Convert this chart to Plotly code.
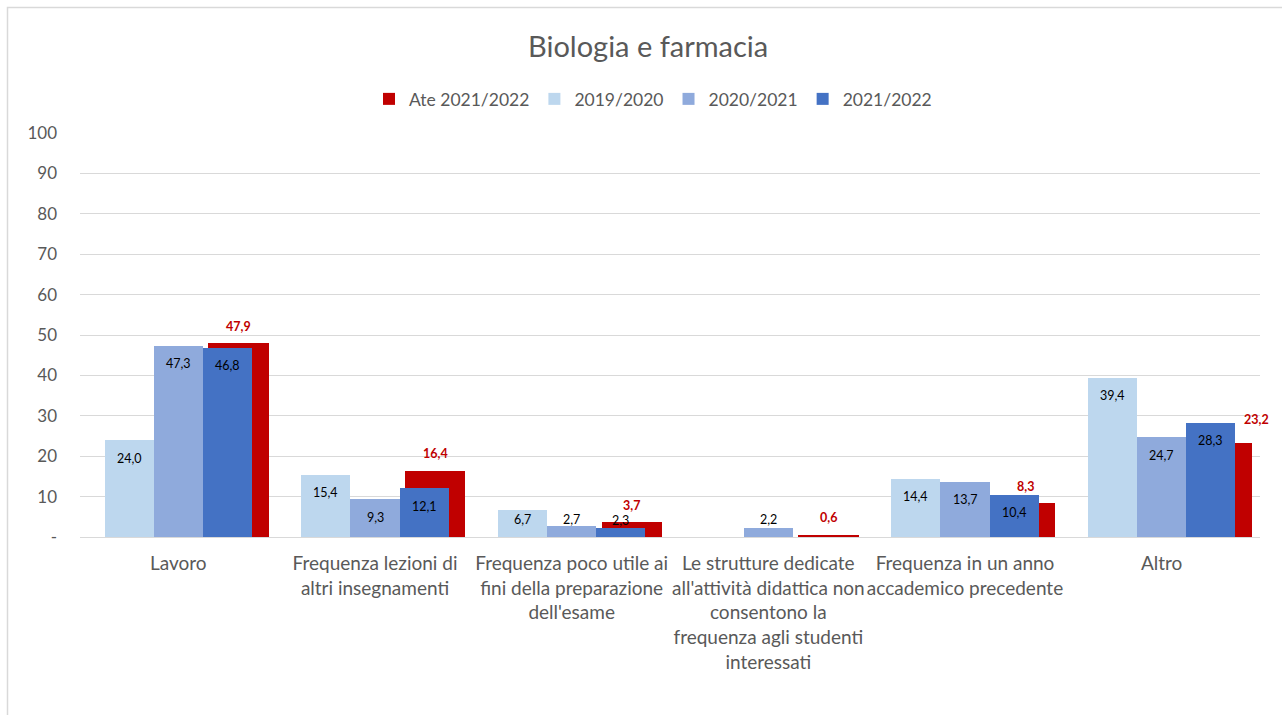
import plotly.graph_objects as go

# Categories (motivi della non frequenza)
categories = [
    "Lavoro",
    "Frequenza lezioni di<br>altri insegnamenti",
    "Frequenza poco utile ai<br>fini della preparazione<br>dell'esame",
    "Le strutture dedicate<br>all'attività didattica non<br>consentono la<br>frequenza agli studenti<br>interessati",
    "Frequenza in un anno<br>accademico precedente",
    "Altro",
]

# Series values (%)
ate_2021_2022 = [47.9, 16.4, 3.7, 0.6, 8.3, 23.2]
v_2019_2020 = [24.0, 15.4, 6.7, None, 14.4, 39.4]
v_2020_2021 = [47.3, 9.3, 2.7, 2.2, 13.7, 24.7]
v_2021_2022 = [46.8, 12.1, 2.3, None, 10.4, 28.3]

y_ticks = [0, 10, 20, 30, 40, 50, 60, 70, 80, 90, 100]
y_tick_labels = ["-", "10", "20", "30", "40", "50", "60", "70", "80", "90", "100"]

FONT = "Lato"
GREY = "#595959"
RED = "#C00000"

# plot area geometry (pixels)
W, H = 1282, 715
ML, MR, MT, MB = 80, 22, 133, 178
PLOT_W = W - ML - MR
PLOT_H = H - MT - MB
PX_PER_UNIT = PLOT_H / 100.0

x_idx = list(range(len(categories)))

blue_series = [
    ("2019/2020", v_2019_2020, "#BDD7EE", -0.375),
    ("2020/2021", v_2020_2021, "#8FAADC", -0.125),
    ("2021/2022", v_2021_2022, "#4472C4", 0.125),
]
BLUE_W = 0.25
RED_OFF, RED_W = 0.153, 0.307

fig = go.Figure()

# Ateneo series sits behind the department bars
fig.add_trace(go.Bar(
    name="Ate 2021/2022", x=x_idx, y=ate_2021_2022,
    offset=RED_OFF, width=RED_W,
    marker=dict(color=RED, line=dict(width=0)),
    hoverinfo="y",
))
for name, vals, color, off in blue_series:
    fig.add_trace(go.Bar(
        name=name, x=x_idx, y=vals,
        offset=off, width=BLUE_W,
        marker=dict(color=color, line=dict(width=0)),
        hoverinfo="y",
    ))

annotations = []

# inside-end labels for the department bars, kept clear of the baseline
for name, vals, color, off in blue_series:
    for i, v in enumerate(vals):
        if v is None:
            continue
        bar_px = v * PX_PER_UNIT
        shift = -min(18.0, bar_px - 17.0)
        annotations.append(dict(
            x=i + off + BLUE_W / 2, y=v, xref="x", yref="y",
            text=f"{v:.1f}".replace(".", ","), showarrow=False,
            yanchor="middle", xanchor="center", yshift=shift,
            font=dict(family=FONT, size=12.5, color="#000000"),
        ))

# bold red labels above the Ateneo bars
for i, v in enumerate(ate_2021_2022):
    xs, ys = 0, 17
    if i == len(ate_2021_2022) - 1:
        xs, ys = 35, 24
    annotations.append(dict(
        x=i + RED_OFF + RED_W / 2, y=v, xref="x", yref="y",
        text=f"<b>{v:.1f}</b>".replace(".", ","), showarrow=False,
        yanchor="middle", xanchor="center", yshift=ys, xshift=xs,
        font=dict(family=FONT, size=12.5, color=RED),
    ))


def px_to_paper_x(px):
    return (px - ML) / PLOT_W


def px_to_paper_y(py):
    return (H - MB - py) / PLOT_H


# chart title
annotations.append(dict(
    x=px_to_paper_x(648), y=px_to_paper_y(45), xref="paper", yref="paper",
    text="Biologia e farmacia", showarrow=False,
    xanchor="center", yanchor="middle",
    font=dict(family=FONT, size=29, color=GREY),
))

fig.update_layout(
    width=W, height=H,
    margin=dict(l=ML, r=MR, t=MT, b=MB, pad=0),
    paper_bgcolor="white", plot_bgcolor="white",
    barmode="overlay",
    bargap=0,
    font=dict(family=FONT, color=GREY, size=17),
    showlegend=True,
    legend=dict(
        orientation="h",
        x=px_to_paper_x(653), xanchor="center",
        y=px_to_paper_y(99), yanchor="middle",
        font=dict(family=FONT, size=17.5, color=GREY),
        itemwidth=30,
        traceorder="normal",
    ),
    xaxis=dict(
        range=[-0.5, len(categories) - 0.5],
        tickmode="array", tickvals=x_idx, ticktext=categories,
        showgrid=False, zeroline=False, showline=False,
        ticks="", tickfont=dict(family=FONT, size=19, color=GREY),
        ticklabelstandoff=13,
        fixedrange=True,
    ),
    yaxis=dict(
        range=[0, 100],
        tickmode="array", tickvals=y_ticks, ticktext=y_tick_labels,
        showgrid=True, gridcolor="#D9D9D9", gridwidth=1,
        zeroline=True, zerolinecolor="#D9D9D9", zerolinewidth=1,
        showline=False, ticks="",
        tickfont=dict(family=FONT, size=17, color=GREY),
        ticklabelstandoff=22,
        fixedrange=True,
    ),
    annotations=annotations,
    shapes=[dict(
        type="rect", xref="paper", yref="paper",
        x0=px_to_paper_x(7.5), x1=px_to_paper_x(1300),
        y0=px_to_paper_y(730), y1=px_to_paper_y(7.5),
        line=dict(color="#D9D9D9", width=1.5), fillcolor="rgba(0,0,0,0)",
        layer="below",
    )],
)

fig.write_html("out.html", config={"displayModeBar": False})
